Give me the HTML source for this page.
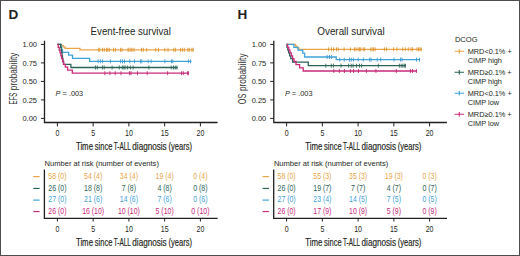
<!DOCTYPE html>
<html><head><meta charset="utf-8"><style>
html,body{margin:0;padding:0;background:#fff;width:520px;height:256px;overflow:hidden}
svg{display:block}
text{font-family:"Liberation Sans",sans-serif}
</style></head><body>
<svg width="520" height="256" viewBox="0 0 520 256" font-family="Liberation Sans, sans-serif" fill="#231F20">
<rect x="0.5" y="0.5" width="519" height="255" fill="#fff" stroke="#4d4d4d" stroke-width="1"/>
<text x="8.5" y="18.9" font-size="13.5" font-weight="bold">D</text>
<text x="237.4" y="18.9" font-size="13.5" font-weight="bold">H</text>
<text x="90.6" y="35" font-size="10" textLength="80.2" lengthAdjust="spacingAndGlyphs">Event-free survival</text>
<text x="317.3" y="35" font-size="10" textLength="67.3" lengthAdjust="spacingAndGlyphs">Overall survival</text>
<path d="M44.5 40.7V122.5H217.6" stroke="#231F20" stroke-width="1.3" fill="none"/>
<path d="M40.9 44.40H44.5" stroke="#231F20" stroke-width="1"/>
<text x="37.0" y="47.05" font-size="8" text-anchor="end" textLength="14.6" lengthAdjust="spacingAndGlyphs">1.00</text>
<path d="M40.9 62.90H44.5" stroke="#231F20" stroke-width="1"/>
<text x="37.0" y="65.55" font-size="8" text-anchor="end" textLength="14.6" lengthAdjust="spacingAndGlyphs">0.75</text>
<path d="M40.9 81.40H44.5" stroke="#231F20" stroke-width="1"/>
<text x="37.0" y="84.05" font-size="8" text-anchor="end" textLength="14.6" lengthAdjust="spacingAndGlyphs">0.50</text>
<path d="M40.9 99.90H44.5" stroke="#231F20" stroke-width="1"/>
<text x="37.0" y="102.55" font-size="8" text-anchor="end" textLength="14.6" lengthAdjust="spacingAndGlyphs">0.25</text>
<path d="M40.9 118.40H44.5" stroke="#231F20" stroke-width="1"/>
<text x="37.0" y="121.05" font-size="8" text-anchor="end" textLength="14.6" lengthAdjust="spacingAndGlyphs">0.00</text>
<path d="M57.40 122.5V126.4" stroke="#231F20" stroke-width="1"/>
<text x="57.40" y="135.8" font-size="8.4" text-anchor="middle" textLength="3.9" lengthAdjust="spacingAndGlyphs">0</text>
<path d="M93.15 122.5V126.4" stroke="#231F20" stroke-width="1"/>
<text x="93.15" y="135.8" font-size="8.4" text-anchor="middle" textLength="3.9" lengthAdjust="spacingAndGlyphs">5</text>
<path d="M128.90 122.5V126.4" stroke="#231F20" stroke-width="1"/>
<text x="128.90" y="135.8" font-size="8.4" text-anchor="middle" textLength="7.8" lengthAdjust="spacingAndGlyphs">10</text>
<path d="M164.65 122.5V126.4" stroke="#231F20" stroke-width="1"/>
<text x="164.65" y="135.8" font-size="8.4" text-anchor="middle" textLength="7.8" lengthAdjust="spacingAndGlyphs">15</text>
<path d="M200.40 122.5V126.4" stroke="#231F20" stroke-width="1"/>
<text x="200.40" y="135.8" font-size="8.4" text-anchor="middle" textLength="7.8" lengthAdjust="spacingAndGlyphs">20</text>
<text x="75.90" y="149.9" font-size="10.2" stroke="#231F20" stroke-width="0.18" textLength="17.10" lengthAdjust="spacingAndGlyphs">Time</text>
<text x="94.80" y="149.9" font-size="10.2" stroke="#231F20" stroke-width="0.18" textLength="17.60" lengthAdjust="spacingAndGlyphs">since</text>
<text x="113.70" y="149.9" font-size="10.2" stroke="#231F20" stroke-width="0.18" textLength="17.10" lengthAdjust="spacingAndGlyphs">T-ALL</text>
<text x="132.30" y="149.9" font-size="10.2" stroke="#231F20" stroke-width="0.18" textLength="34.40" lengthAdjust="spacingAndGlyphs">diagnosis</text>
<text x="168.40" y="149.9" font-size="10.2" stroke="#231F20" stroke-width="0.18" textLength="23.60" lengthAdjust="spacingAndGlyphs">(years)</text>
<text transform="translate(16.6 104.4) rotate(-90)" font-size="10.6" fill="#333" textLength="11.8" lengthAdjust="spacingAndGlyphs">EFS</text>
<text transform="translate(16.6 90.2) rotate(-90)" font-size="10.6" fill="#333" textLength="37.7" lengthAdjust="spacingAndGlyphs">probability</text>
<text x="55.6" y="95.9" font-size="7.4" textLength="27.6" lengthAdjust="spacingAndGlyphs"><tspan font-style="italic">P</tspan> = .003</text>
<path d="M57.40 44.40H61.40V45.67H63.20V46.95H65.00V48.40H80.00V49.80H193.50" stroke="#EAA548" stroke-width="1.3" fill="none"/>
<path d="M98.6 47.8v4M99.8 47.8v4M102.5 47.8v4M104.3 47.8v4M106.5 47.8v4M107.8 47.8v4M109.4 47.8v4M113.5 47.8v4M115.4 47.8v4M120.5 47.8v4M122.0 47.8v4M128.0 47.8v4M129.0 47.8v4M131.0 47.8v4M132.0 47.8v4M134.0 47.8v4M141.5 47.8v4M143.3 47.8v4M146.7 47.8v4M155.7 47.8v4M158.5 47.8v4M164.8 47.8v4M168.0 47.8v4M173.8 47.8v4M175.4 47.8v4M180.5 47.8v4M182.3 47.8v4M184.3 47.8v4M187.8 47.8v4M189.3 47.8v4M191.9 47.8v4M193.2 47.8v4" stroke="#DC9128" stroke-width="0.85" fill="none"/>
<path d="M57.40 44.40H61.00V47.10H61.70V49.90H62.50V52.30H68.60V55.20H72.50V58.30H89.60V61.30H191.50" stroke="#3FA2D8" stroke-width="1.3" fill="none"/>
<path d="M98.2 59.3v4M100.4 59.3v4M102.5 59.3v4M110.4 59.3v4M120.6 59.3v4M122.5 59.3v4M124.5 59.3v4M129.8 59.3v4M134.5 59.3v4M140.5 59.3v4M141.8 59.3v4M148.2 59.3v4M151.2 59.3v4M164.9 59.3v4M171.5 59.3v4M172.8 59.3v4M188.4 59.3v4M190.5 59.3v4" stroke="#3A98D0" stroke-width="0.85" fill="none"/>
<path d="M57.40 44.40H60.60V47.30H61.20V50.10H61.70V52.90H62.10V55.80H62.50V58.60H62.90V61.50H63.50V64.30H70.90V67.50H177.60" stroke="#2B6457" stroke-width="1.3" fill="none"/>
<path d="M95.5 65.5v4M97.3 65.5v4M102.4 65.5v4M104.2 65.5v4M112.1 65.5v4M119.3 65.5v4M122.3 65.5v4M123.9 65.5v4M125.1 65.5v4M127.4 65.5v4M130.4 65.5v4M133.2 65.5v4M148.9 65.5v4M171.2 65.5v4M173.5 65.5v4M175.3 65.5v4M176.9 65.5v4" stroke="#2B6457" stroke-width="0.85" fill="none"/>
<path d="M57.40 44.40H58.20V47.30H59.20V50.10H60.00V52.90H60.90V55.80H61.60V58.60H62.60V61.50H63.60V64.30H65.30V67.20H67.60V70.20H72.30V73.20H188.80" stroke="#C92A7A" stroke-width="1.3" fill="none"/>
<path d="M104.8 71.2v4M109.9 71.2v4M115.2 71.2v4M121.0 71.2v4M129.5 71.2v4M131.0 71.2v4M137.5 71.2v4M147.2 71.2v4M167.6 71.2v4M181.5 71.2v4M183.3 71.2v4M187.6 71.2v4M188.6 71.2v4" stroke="#C02472" stroke-width="0.85" fill="none"/>

<path d="M273.8 40.7V122.5H446.9" stroke="#231F20" stroke-width="1.3" fill="none"/>
<path d="M270.2 44.40H273.8" stroke="#231F20" stroke-width="1"/>
<text x="266.3" y="47.05" font-size="8" text-anchor="end" textLength="14.6" lengthAdjust="spacingAndGlyphs">1.00</text>
<path d="M270.2 62.90H273.8" stroke="#231F20" stroke-width="1"/>
<text x="266.3" y="65.55" font-size="8" text-anchor="end" textLength="14.6" lengthAdjust="spacingAndGlyphs">0.75</text>
<path d="M270.2 81.40H273.8" stroke="#231F20" stroke-width="1"/>
<text x="266.3" y="84.05" font-size="8" text-anchor="end" textLength="14.6" lengthAdjust="spacingAndGlyphs">0.50</text>
<path d="M270.2 99.90H273.8" stroke="#231F20" stroke-width="1"/>
<text x="266.3" y="102.55" font-size="8" text-anchor="end" textLength="14.6" lengthAdjust="spacingAndGlyphs">0.25</text>
<path d="M270.2 118.40H273.8" stroke="#231F20" stroke-width="1"/>
<text x="266.3" y="121.05" font-size="8" text-anchor="end" textLength="14.6" lengthAdjust="spacingAndGlyphs">0.00</text>
<path d="M286.60 122.5V126.4" stroke="#231F20" stroke-width="1"/>
<text x="286.60" y="135.8" font-size="8.4" text-anchor="middle" textLength="3.9" lengthAdjust="spacingAndGlyphs">0</text>
<path d="M322.35 122.5V126.4" stroke="#231F20" stroke-width="1"/>
<text x="322.35" y="135.8" font-size="8.4" text-anchor="middle" textLength="3.9" lengthAdjust="spacingAndGlyphs">5</text>
<path d="M358.10 122.5V126.4" stroke="#231F20" stroke-width="1"/>
<text x="358.10" y="135.8" font-size="8.4" text-anchor="middle" textLength="7.8" lengthAdjust="spacingAndGlyphs">10</text>
<path d="M393.85 122.5V126.4" stroke="#231F20" stroke-width="1"/>
<text x="393.85" y="135.8" font-size="8.4" text-anchor="middle" textLength="7.8" lengthAdjust="spacingAndGlyphs">15</text>
<path d="M429.60 122.5V126.4" stroke="#231F20" stroke-width="1"/>
<text x="429.60" y="135.8" font-size="8.4" text-anchor="middle" textLength="7.8" lengthAdjust="spacingAndGlyphs">20</text>
<text x="305.20" y="149.9" font-size="10.2" stroke="#231F20" stroke-width="0.18" textLength="17.10" lengthAdjust="spacingAndGlyphs">Time</text>
<text x="324.10" y="149.9" font-size="10.2" stroke="#231F20" stroke-width="0.18" textLength="17.60" lengthAdjust="spacingAndGlyphs">since</text>
<text x="343.00" y="149.9" font-size="10.2" stroke="#231F20" stroke-width="0.18" textLength="17.10" lengthAdjust="spacingAndGlyphs">T-ALL</text>
<text x="361.60" y="149.9" font-size="10.2" stroke="#231F20" stroke-width="0.18" textLength="34.40" lengthAdjust="spacingAndGlyphs">diagnosis</text>
<text x="397.70" y="149.9" font-size="10.2" stroke="#231F20" stroke-width="0.18" textLength="23.60" lengthAdjust="spacingAndGlyphs">(years)</text>
<text transform="translate(246.4 104.2) rotate(-90)" font-size="10.6" fill="#333" textLength="10.4" lengthAdjust="spacingAndGlyphs">OS</text>
<text transform="translate(246.4 91.0) rotate(-90)" font-size="10.6" fill="#333" textLength="37.5" lengthAdjust="spacingAndGlyphs">probability</text>
<text x="284.90000000000003" y="95.9" font-size="7.4" textLength="27.6" lengthAdjust="spacingAndGlyphs"><tspan font-style="italic">P</tspan> = .003</text>
<path d="M286.60 44.40H295.50V46.20H297.20V47.80H298.80V49.30H421.80" stroke="#EAA548" stroke-width="1.3" fill="none"/>
<path d="M328.6 47.3v4M331.4 47.3v4M333.5 47.3v4M336.5 47.3v4M338.3 47.3v4M344.1 47.3v4M350.4 47.3v4M354.5 47.3v4M356.0 47.3v4M358.0 47.3v4M359.5 47.3v4M360.7 47.3v4M363.2 47.3v4M364.7 47.3v4M370.7 47.3v4M372.2 47.3v4M373.6 47.3v4M375.2 47.3v4M384.4 47.3v4M386.5 47.3v4M393.5 47.3v4M396.9 47.3v4M402.7 47.3v4M405.3 47.3v4M408.3 47.3v4M411.0 47.3v4M412.6 47.3v4M417.0 47.3v4M418.5 47.3v4M420.0 47.3v4M421.3 47.3v4" stroke="#DC9128" stroke-width="0.85" fill="none"/>
<path d="M286.60 44.40H293.90V47.40H298.00V50.10H302.75V53.20H304.60V57.00H336.20V59.60H419.70" stroke="#3FA2D8" stroke-width="1.3" fill="none"/>
<path d="M327.2 55.0v4M329.5 55.0v4M331.6 55.0v4M339.7 57.6v4M344.3 57.6v4M349.5 57.6v4M351.3 57.6v4M353.4 57.6v4M358.2 57.6v4M363.3 57.6v4M369.6 57.6v4M371.0 57.6v4M377.2 57.6v4M380.7 57.6v4M394.0 57.6v4M400.5 57.6v4M402.0 57.6v4M416.5 57.6v4M419.5 57.6v4" stroke="#3A98D0" stroke-width="0.85" fill="none"/>
<path d="M286.60 44.40H287.00V47.30H287.80V50.10H288.60V52.90H289.60V55.80H290.80V58.60H292.60V62.20H308.30V65.70H405.80" stroke="#2B6457" stroke-width="1.3" fill="none"/>
<path d="M325.8 63.7v4M331.3 63.7v4M333.4 63.7v4M341.0 63.7v4M348.6 63.7v4M351.2 63.7v4M353.1 63.7v4M356.5 63.7v4M359.5 63.7v4M361.6 63.7v4M378.3 63.7v4M399.4 63.7v4M401.2 63.7v4M402.8 63.7v4M404.3 63.7v4M405.5 63.7v4" stroke="#2B6457" stroke-width="0.85" fill="none"/>
<path d="M286.60 44.40H287.60V47.30H288.80V50.10H290.00V52.90H291.30V55.80H292.60V58.60H294.00V61.50H296.00V64.60H299.60V67.80H303.20V71.00H416.80" stroke="#C92A7A" stroke-width="1.3" fill="none"/>
<path d="M333.8 69.0v4M339.3 69.0v4M344.4 69.0v4M350.4 69.0v4M353.5 69.0v4M358.5 69.0v4M366.4 69.0v4M375.9 69.0v4M396.3 69.0v4M410.4 69.0v4M412.5 69.0v4M416.4 69.0v4" stroke="#C02472" stroke-width="0.85" fill="none"/>

<text x="44.6" y="165.8" font-size="7.7" textLength="114.3" lengthAdjust="spacingAndGlyphs">Number at risk (number of events)</text>
<path d="M44.4 169.4V218.3H217.7" stroke="#231F20" stroke-width="1.3" fill="none"/>
<path d="M33.3 176.60H39.6" stroke="#EAA548" stroke-width="1.2"/>
<text transform="translate(57.40 178.90) scale(0.85 1)" font-size="8.2" fill="#EAA548" text-anchor="middle">58 (0)</text>
<text transform="translate(93.15 178.90) scale(0.85 1)" font-size="8.2" fill="#EAA548" text-anchor="middle">54 (4)</text>
<text transform="translate(128.90 178.90) scale(0.85 1)" font-size="8.2" fill="#EAA548" text-anchor="middle">34 (4)</text>
<text transform="translate(164.65 178.90) scale(0.85 1)" font-size="8.2" fill="#EAA548" text-anchor="middle">19 (4)</text>
<text transform="translate(200.40 178.90) scale(0.85 1)" font-size="8.2" fill="#EAA548" text-anchor="middle">0 (4)</text>
<path d="M33.3 188.45H39.6" stroke="#2B6457" stroke-width="1.2"/>
<text transform="translate(57.40 190.75) scale(0.85 1)" font-size="8.2" fill="#2B6457" text-anchor="middle">26 (0)</text>
<text transform="translate(93.15 190.75) scale(0.85 1)" font-size="8.2" fill="#2B6457" text-anchor="middle">18 (8)</text>
<text transform="translate(128.90 190.75) scale(0.85 1)" font-size="8.2" fill="#2B6457" text-anchor="middle">7 (8)</text>
<text transform="translate(164.65 190.75) scale(0.85 1)" font-size="8.2" fill="#2B6457" text-anchor="middle">4 (8)</text>
<text transform="translate(200.40 190.75) scale(0.85 1)" font-size="8.2" fill="#2B6457" text-anchor="middle">0 (8)</text>
<path d="M33.3 200.10H39.6" stroke="#3FA2D8" stroke-width="1.2"/>
<text transform="translate(57.40 202.40) scale(0.85 1)" font-size="8.2" fill="#3FA2D8" text-anchor="middle">27 (0)</text>
<text transform="translate(93.15 202.40) scale(0.85 1)" font-size="8.2" fill="#3FA2D8" text-anchor="middle">21 (6)</text>
<text transform="translate(128.90 202.40) scale(0.85 1)" font-size="8.2" fill="#3FA2D8" text-anchor="middle">14 (6)</text>
<text transform="translate(164.65 202.40) scale(0.85 1)" font-size="8.2" fill="#3FA2D8" text-anchor="middle">7 (6)</text>
<text transform="translate(200.40 202.40) scale(0.85 1)" font-size="8.2" fill="#3FA2D8" text-anchor="middle">0 (6)</text>
<path d="M33.3 211.55H39.6" stroke="#C92A7A" stroke-width="1.2"/>
<text transform="translate(57.40 213.85) scale(0.85 1)" font-size="8.2" fill="#C92A7A" text-anchor="middle">26 (0)</text>
<text transform="translate(93.15 213.85) scale(0.85 1)" font-size="8.2" fill="#C92A7A" text-anchor="middle">16 (10)</text>
<text transform="translate(128.90 213.85) scale(0.85 1)" font-size="8.2" fill="#C92A7A" text-anchor="middle">10 (10)</text>
<text transform="translate(164.65 213.85) scale(0.85 1)" font-size="8.2" fill="#C92A7A" text-anchor="middle">5 (10)</text>
<text transform="translate(200.40 213.85) scale(0.85 1)" font-size="8.2" fill="#C92A7A" text-anchor="middle">0 (10)</text>
<path d="M57.40 218.3V221.5" stroke="#231F20" stroke-width="1"/>
<text x="57.40" y="232.0" font-size="8.4" text-anchor="middle" textLength="3.9" lengthAdjust="spacingAndGlyphs">0</text>
<path d="M93.15 218.3V221.5" stroke="#231F20" stroke-width="1"/>
<text x="93.15" y="232.0" font-size="8.4" text-anchor="middle" textLength="3.9" lengthAdjust="spacingAndGlyphs">5</text>
<path d="M128.90 218.3V221.5" stroke="#231F20" stroke-width="1"/>
<text x="128.90" y="232.0" font-size="8.4" text-anchor="middle" textLength="7.8" lengthAdjust="spacingAndGlyphs">10</text>
<path d="M164.65 218.3V221.5" stroke="#231F20" stroke-width="1"/>
<text x="164.65" y="232.0" font-size="8.4" text-anchor="middle" textLength="7.8" lengthAdjust="spacingAndGlyphs">15</text>
<path d="M200.40 218.3V221.5" stroke="#231F20" stroke-width="1"/>
<text x="200.40" y="232.0" font-size="8.4" text-anchor="middle" textLength="7.8" lengthAdjust="spacingAndGlyphs">20</text>
<text x="75.90" y="245.6" font-size="10.2" stroke="#231F20" stroke-width="0.18" textLength="17.10" lengthAdjust="spacingAndGlyphs">Time</text>
<text x="94.80" y="245.6" font-size="10.2" stroke="#231F20" stroke-width="0.18" textLength="17.60" lengthAdjust="spacingAndGlyphs">since</text>
<text x="113.70" y="245.6" font-size="10.2" stroke="#231F20" stroke-width="0.18" textLength="17.10" lengthAdjust="spacingAndGlyphs">T-ALL</text>
<text x="132.30" y="245.6" font-size="10.2" stroke="#231F20" stroke-width="0.18" textLength="34.40" lengthAdjust="spacingAndGlyphs">diagnosis</text>
<text x="168.40" y="245.6" font-size="10.2" stroke="#231F20" stroke-width="0.18" textLength="23.60" lengthAdjust="spacingAndGlyphs">(years)</text>

<text x="273.90000000000003" y="165.8" font-size="7.7" textLength="114.3" lengthAdjust="spacingAndGlyphs">Number at risk (number of events)</text>
<path d="M273.7 169.4V218.3H447.0" stroke="#231F20" stroke-width="1.3" fill="none"/>
<path d="M262.6 176.60H268.90000000000003" stroke="#EAA548" stroke-width="1.2"/>
<text transform="translate(286.60 178.90) scale(0.85 1)" font-size="8.2" fill="#EAA548" text-anchor="middle">58 (0)</text>
<text transform="translate(322.35 178.90) scale(0.85 1)" font-size="8.2" fill="#EAA548" text-anchor="middle">55 (3)</text>
<text transform="translate(358.10 178.90) scale(0.85 1)" font-size="8.2" fill="#EAA548" text-anchor="middle">35 (3)</text>
<text transform="translate(393.85 178.90) scale(0.85 1)" font-size="8.2" fill="#EAA548" text-anchor="middle">19 (3)</text>
<text transform="translate(429.60 178.90) scale(0.85 1)" font-size="8.2" fill="#EAA548" text-anchor="middle">0 (3)</text>
<path d="M262.6 188.45H268.90000000000003" stroke="#2B6457" stroke-width="1.2"/>
<text transform="translate(286.60 190.75) scale(0.85 1)" font-size="8.2" fill="#2B6457" text-anchor="middle">26 (0)</text>
<text transform="translate(322.35 190.75) scale(0.85 1)" font-size="8.2" fill="#2B6457" text-anchor="middle">19 (7)</text>
<text transform="translate(358.10 190.75) scale(0.85 1)" font-size="8.2" fill="#2B6457" text-anchor="middle">7 (7)</text>
<text transform="translate(393.85 190.75) scale(0.85 1)" font-size="8.2" fill="#2B6457" text-anchor="middle">4 (7)</text>
<text transform="translate(429.60 190.75) scale(0.85 1)" font-size="8.2" fill="#2B6457" text-anchor="middle">0 (7)</text>
<path d="M262.6 200.10H268.90000000000003" stroke="#3FA2D8" stroke-width="1.2"/>
<text transform="translate(286.60 202.40) scale(0.85 1)" font-size="8.2" fill="#3FA2D8" text-anchor="middle">27 (0)</text>
<text transform="translate(322.35 202.40) scale(0.85 1)" font-size="8.2" fill="#3FA2D8" text-anchor="middle">23 (4)</text>
<text transform="translate(358.10 202.40) scale(0.85 1)" font-size="8.2" fill="#3FA2D8" text-anchor="middle">14 (5)</text>
<text transform="translate(393.85 202.40) scale(0.85 1)" font-size="8.2" fill="#3FA2D8" text-anchor="middle">7 (5)</text>
<text transform="translate(429.60 202.40) scale(0.85 1)" font-size="8.2" fill="#3FA2D8" text-anchor="middle">0 (5)</text>
<path d="M262.6 211.55H268.90000000000003" stroke="#C92A7A" stroke-width="1.2"/>
<text transform="translate(286.60 213.85) scale(0.85 1)" font-size="8.2" fill="#C92A7A" text-anchor="middle">26 (0)</text>
<text transform="translate(322.35 213.85) scale(0.85 1)" font-size="8.2" fill="#C92A7A" text-anchor="middle">17 (9)</text>
<text transform="translate(358.10 213.85) scale(0.85 1)" font-size="8.2" fill="#C92A7A" text-anchor="middle">10 (9)</text>
<text transform="translate(393.85 213.85) scale(0.85 1)" font-size="8.2" fill="#C92A7A" text-anchor="middle">5 (9)</text>
<text transform="translate(429.60 213.85) scale(0.85 1)" font-size="8.2" fill="#C92A7A" text-anchor="middle">0 (9)</text>
<path d="M286.60 218.3V221.5" stroke="#231F20" stroke-width="1"/>
<text x="286.60" y="232.0" font-size="8.4" text-anchor="middle" textLength="3.9" lengthAdjust="spacingAndGlyphs">0</text>
<path d="M322.35 218.3V221.5" stroke="#231F20" stroke-width="1"/>
<text x="322.35" y="232.0" font-size="8.4" text-anchor="middle" textLength="3.9" lengthAdjust="spacingAndGlyphs">5</text>
<path d="M358.10 218.3V221.5" stroke="#231F20" stroke-width="1"/>
<text x="358.10" y="232.0" font-size="8.4" text-anchor="middle" textLength="7.8" lengthAdjust="spacingAndGlyphs">10</text>
<path d="M393.85 218.3V221.5" stroke="#231F20" stroke-width="1"/>
<text x="393.85" y="232.0" font-size="8.4" text-anchor="middle" textLength="7.8" lengthAdjust="spacingAndGlyphs">15</text>
<path d="M429.60 218.3V221.5" stroke="#231F20" stroke-width="1"/>
<text x="429.60" y="232.0" font-size="8.4" text-anchor="middle" textLength="7.8" lengthAdjust="spacingAndGlyphs">20</text>
<text x="305.20" y="245.6" font-size="10.2" stroke="#231F20" stroke-width="0.18" textLength="17.10" lengthAdjust="spacingAndGlyphs">Time</text>
<text x="324.10" y="245.6" font-size="10.2" stroke="#231F20" stroke-width="0.18" textLength="17.60" lengthAdjust="spacingAndGlyphs">since</text>
<text x="343.00" y="245.6" font-size="10.2" stroke="#231F20" stroke-width="0.18" textLength="17.10" lengthAdjust="spacingAndGlyphs">T-ALL</text>
<text x="361.60" y="245.6" font-size="10.2" stroke="#231F20" stroke-width="0.18" textLength="34.40" lengthAdjust="spacingAndGlyphs">diagnosis</text>
<text x="397.70" y="245.6" font-size="10.2" stroke="#231F20" stroke-width="0.18" textLength="23.60" lengthAdjust="spacingAndGlyphs">(years)</text>

<text x="454.9" y="41.9" font-size="7.4" textLength="22.7" lengthAdjust="spacingAndGlyphs">DCOG</text>
<path d="M454.6 51.30H464M459.3 49.10v4.4" stroke="#EAA548" stroke-width="1.1"/>
<text x="467.7" y="54.10" font-size="7.5" textLength="44" lengthAdjust="spacingAndGlyphs">MRD&lt;0.1% +</text>
<text x="467.7" y="63.20" font-size="7.5" textLength="34.3" lengthAdjust="spacingAndGlyphs">CIMP high</text>
<path d="M454.6 72.30H464M459.3 70.10v4.4" stroke="#2B6457" stroke-width="1.1"/>
<text x="467.7" y="75.10" font-size="7.5" textLength="44" lengthAdjust="spacingAndGlyphs">MRD≥0.1% +</text>
<text x="467.7" y="84.20" font-size="7.5" textLength="34.3" lengthAdjust="spacingAndGlyphs">CIMP high</text>
<path d="M454.6 93.30H464M459.3 91.10v4.4" stroke="#3FA2D8" stroke-width="1.1"/>
<text x="467.7" y="96.10" font-size="7.5" textLength="44" lengthAdjust="spacingAndGlyphs">MRD&lt;0.1% +</text>
<text x="467.7" y="105.20" font-size="7.5" textLength="31.5" lengthAdjust="spacingAndGlyphs">CIMP low</text>
<path d="M454.6 114.30H464M459.3 112.10v4.4" stroke="#C92A7A" stroke-width="1.1"/>
<text x="467.7" y="117.10" font-size="7.5" textLength="44" lengthAdjust="spacingAndGlyphs">MRD≥0.1% +</text>
<text x="467.7" y="126.20" font-size="7.5" textLength="31.5" lengthAdjust="spacingAndGlyphs">CIMP low</text>

</svg>
</body></html>
